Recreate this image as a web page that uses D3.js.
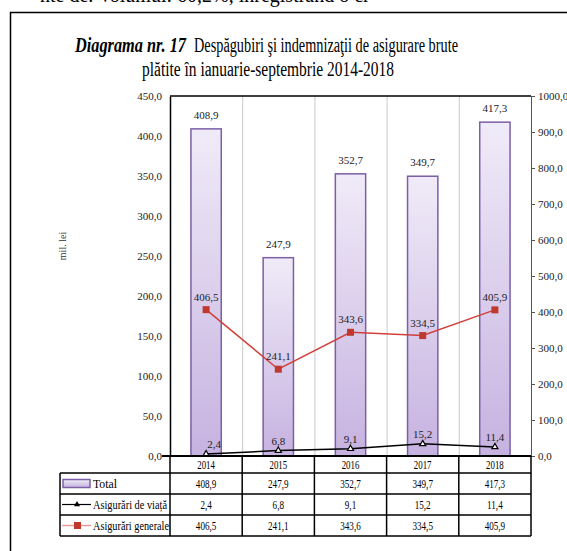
<!DOCTYPE html>
<html>
<head>
<meta charset="utf-8">
<script src="https://cdn.jsdelivr.net/npm/d3@7"></script>
<style>
  body { margin: 0; background: #fff; }
  svg { display: block; font-family: "Liberation Serif", "Times New Roman", serif; }
</style>
</head>
<body>
<div class="chart"></div>
<script>
// data
var years = ["2014", "2015", "2016", "2017", "2018"];
var total = [408.9, 247.9, 352.7, 349.7, 417.3];
var viata = [2.4, 6.8, 9.1, 15.2, 11.4];
var generale = [406.5, 241.1, 343.6, 334.5, 405.9];
var leftTicks = [0, 50, 100, 150, 200, 250, 300, 350, 400, 450];
var rightTicks = [0, 100, 200, 300, 400, 500, 600, 700, 800, 900, 1000];
var rowNames = ["Total", "Asigurări de viață", "Asigurări generale"];

var W = 567, H = 551;
var plot = { left: 170, right: 531, top: 96, bottom: 456 };

var fmt = function (v) { return d3.format(".1f")(v).replace(".", ","); };

// squeeze text horizontally (the original uses a narrow Times)
function condense(sel, k) {
    sel.each(function () {
        var w = this.getComputedTextLength();
        d3.select(this).attr("textLength", w * k).attr("lengthAdjust", "spacingAndGlyphs");
    });
}

var svg = d3.select(".chart").append("svg")
    .attr("width", W)
    .attr("height", H);

var defs = svg.append("defs");
var grad = defs.append("linearGradient")
    .attr("id", "barGrad")
    .attr("x1", 0).attr("y1", 0).attr("x2", 0).attr("y2", 1);
grad.append("stop").attr("offset", "0%").attr("stop-color", "#f0ebf8");
grad.append("stop").attr("offset", "100%").attr("stop-color", "#c6b2e0");

// cut-off line of page text at the very top
svg.append("text")
    .attr("x", 40).attr("y", 2)
    .attr("font-size", 20)
    .text("nte de. Volumul: 60,2%, înregistrând o cr");

// frame around the figure
svg.append("rect")
    .attr("x", 10.5).attr("y", 12.5)
    .attr("width", 620).attr("height", 620)
    .attr("fill", "none")
    .attr("stroke", "#000")
    .attr("stroke-width", 1.5);

// title
svg.append("text")
    .attr("x", 75).attr("y", 52)
    .attr("font-size", 20)
    .attr("font-weight", "bold").attr("font-style", "italic")
    .attr("textLength", 111)
    .attr("lengthAdjust", "spacingAndGlyphs")
    .text("Diagrama nr. 17");
svg.append("text")
    .attr("x", 194).attr("y", 52)
    .attr("font-size", 20)
    .attr("textLength", 264)
    .attr("lengthAdjust", "spacingAndGlyphs")
    .text("Despăgubiri şi indemnizaţii de asigurare brute");

svg.append("text")
    .attr("x", 142).attr("y", 76)
    .attr("font-size", 20)
    .attr("textLength", 252)
    .attr("lengthAdjust", "spacingAndGlyphs")
    .text("plătite în ianuarie-septembrie 2014-2018");

// scales
var x = d3.scaleBand()
    .domain(years)
    .range([plot.left, plot.right])
    .paddingInner(0).paddingOuter(0);

var yL = d3.scaleLinear().domain([0, 450]).range([plot.bottom, plot.top]);
var yR = d3.scaleLinear().domain([0, 1000]).range([plot.bottom, plot.top]);

// vertical gridlines between categories
svg.append("g").selectAll("line")
    .data(years.slice(1))
    .enter().append("line")
    .attr("x1", function (d) { return x(d) + 0.5; })
    .attr("x2", function (d) { return x(d) + 0.5; })
    .attr("y1", plot.top)
    .attr("y2", plot.bottom)
    .attr("stroke", "#c8c8c8")
    .attr("stroke-width", 1);

// left axis
var axL = svg.append("g")
    .attr("transform", "translate(" + plot.left + ",0)")
    .call(d3.axisLeft(yL).tickValues(leftTicks).tickFormat(fmt).tickSize(0).tickPadding(8));
axL.select(".domain").attr("stroke", "#000").attr("stroke-width", 1.5);
axL.selectAll("text").attr("font-size", 11).attr("font-family", "Liberation Serif").attr("fill", "#222");

// right axis
var axR = svg.append("g")
    .attr("transform", "translate(" + plot.right + ",0)")
    .call(d3.axisRight(yR).tickValues(rightTicks).tickFormat(fmt).tickSize(4).tickSizeOuter(0).tickPadding(3));
axR.select(".domain").attr("stroke", "#555");
axR.selectAll(".tick line").attr("stroke", "#555");
axR.selectAll("text").attr("font-size", 11).attr("font-family", "Liberation Serif").attr("fill", "#222");

// top border of plot
svg.append("line")
    .attr("x1", plot.left).attr("x2", plot.right)
    .attr("y1", plot.top).attr("y2", plot.top)
    .attr("stroke", "#000").attr("stroke-width", 1.5);

// y axis title
svg.append("text")
    .attr("transform", "translate(66,246) rotate(-90)")
    .attr("text-anchor", "middle")
    .attr("font-size", 10)
    .attr("fill", "#333")
    .text("mil. lei");

// bars
var barW = x.bandwidth() * 0.42;
svg.append("g").selectAll("rect")
    .data(total)
    .enter().append("rect")
    .attr("x", function (d, i) { return x(years[i]) + (x.bandwidth() - barW) / 2; })
    .attr("y", function (d) { return yL(d); })
    .attr("width", barW)
    .attr("height", function (d) { return yL(0) - yL(d); })
    .attr("fill", "url(#barGrad)")
    .attr("stroke", "#7c5fa6")
    .attr("stroke-width", 1.5);

svg.append("g").selectAll("text")
    .data(total)
    .enter().append("text")
    .attr("x", function (d, i) { return x(years[i]) + x.bandwidth() / 2; })
    .attr("y", function (d) { return yL(d) - 10; })
    .attr("text-anchor", "middle")
    .attr("font-size", 11)
    .attr("fill", "#222")
    .text(fmt);

var cx = function (d, i) { return x(years[i]) + x.bandwidth() / 2; };

// Asigurari generale (right axis)
svg.append("path")
    .datum(generale)
    .attr("fill", "none")
    .attr("stroke", "#d0403a")
    .attr("stroke-width", 1.5)
    .attr("d", d3.line().x(cx).y(function (d) { return yR(d); }));

svg.append("g").selectAll("rect")
    .data(generale)
    .enter().append("rect")
    .attr("x", function (d, i) { return cx(d, i) - 3.5; })
    .attr("y", function (d) { return yR(d) - 3.5; })
    .attr("width", 7).attr("height", 7)
    .attr("fill", "#c0392f");

svg.append("g").selectAll("text")
    .data(generale)
    .enter().append("text")
    .attr("x", cx)
    .attr("y", function (d) { return yR(d) - 9; })
    .attr("text-anchor", "middle")
    .attr("font-size", 11)
    .attr("fill", "#222")
    .text(fmt);

// Asigurari de viata (left axis)
svg.append("path")
    .datum(viata)
    .attr("fill", "none")
    .attr("stroke", "#000")
    .attr("stroke-width", 1.5)
    .attr("d", d3.line().x(cx).y(function (d) { return yL(d); }));

var tri = d3.symbol().type(d3.symbolTriangle).size(16);
svg.append("g").selectAll("path")
    .data(viata)
    .enter().append("path")
    .attr("d", tri)
    .attr("transform", function (d, i) { return "translate(" + cx(d, i) + "," + yL(d) + ")"; })
    .attr("fill", "#fff")
    .attr("stroke", "#000")
    .attr("stroke-width", 1.2);

svg.append("g").selectAll("text")
    .data(viata)
    .enter().append("text")
    .attr("x", function (d, i) { return cx(d, i) + (i === 0 ? 8 : 0); })
    .attr("y", function (d) { return yL(d) - 6; })
    .attr("text-anchor", "middle")
    .attr("font-size", 11)
    .attr("fill", "#222")
    .text(fmt);

// data table under the chart
var rowTop = [456, 473, 494, 515, 536];
var tableLeft = 60;
var table = svg.append("g");

// year header row
table.selectAll(".yr")
    .data(years)
    .enter().append("text")
    .attr("class", "yr")
    .attr("x", function (d) { return x(d) + x.bandwidth() / 2; })
    .attr("y", rowTop[1] - 4)
    .attr("text-anchor", "middle")
    .attr("font-size", 13)
    .text(function (d) { return d; })
    .call(condense, 0.68);

var rows = [total, viata, generale];
rows.forEach(function (vals, r) {
    var yb = rowTop[r + 2] - 6;
    table.append("g").selectAll("text")
        .data(vals)
        .enter().append("text")
        .attr("x", function (d, i) { return x(years[i]) + x.bandwidth() / 2; })
        .attr("y", yb)
        .attr("text-anchor", "middle")
        .attr("font-size", 13)
        .text(fmt)
        .call(condense, 0.7);
    table.append("text")
        .attr("x", 93)
        .attr("y", yb)
        .attr("font-size", 12)
        .attr("textLength", [24, 74, 76][r])
        .attr("lengthAdjust", "spacingAndGlyphs")
        .text(rowNames[r]);
});

// horizontal table lines
table.append("line")
    .attr("x1", plot.left - 8).attr("x2", plot.right)
    .attr("y1", rowTop[0]).attr("y2", rowTop[0])
    .attr("stroke", "#000").attr("stroke-width", 2);
rowTop.slice(1).forEach(function (yy) {
    table.append("line")
        .attr("x1", tableLeft).attr("x2", plot.right)
        .attr("y1", yy).attr("y2", yy)
        .attr("stroke", "#000").attr("stroke-width", 1.5);
});
// vertical table lines
var colEdges = [plot.left].concat(years.map(function (d) { return x(d) + x.bandwidth(); }));
colEdges.forEach(function (xx) {
    table.append("line")
        .attr("x1", xx).attr("x2", xx)
        .attr("y1", rowTop[0]).attr("y2", rowTop[4])
        .attr("stroke", "#000").attr("stroke-width", 1.5);
});
table.append("line")
    .attr("x1", tableLeft).attr("x2", tableLeft)
    .attr("y1", rowTop[1]).attr("y2", rowTop[4])
    .attr("stroke", "#000").attr("stroke-width", 1.5);

// legend keys in the table
var ky = function (r) { return (rowTop[r + 1] + rowTop[r + 2]) / 2; };
table.append("rect")
    .attr("x", 63).attr("y", ky(0) - 4)
    .attr("width", 27).attr("height", 8)
    .attr("fill", "url(#barGrad)")
    .attr("stroke", "#7c5fa6").attr("stroke-width", 1.5);
table.append("line")
    .attr("x1", 62).attr("x2", 91).attr("y1", ky(1)).attr("y2", ky(1))
    .attr("stroke", "#000").attr("stroke-width", 1.2);
table.append("path")
    .attr("d", tri)
    .attr("transform", "translate(77," + ky(1) + ")")
    .attr("fill", "#000");
table.append("line")
    .attr("x1", 62).attr("x2", 91).attr("y1", ky(2)).attr("y2", ky(2))
    .attr("stroke", "#e79a98").attr("stroke-width", 1.5);
table.append("rect")
    .attr("x", 74).attr("y", ky(2) - 3.5)
    .attr("width", 7).attr("height", 7)
    .attr("fill", "#c0392f");
</script>
</body>
</html>
